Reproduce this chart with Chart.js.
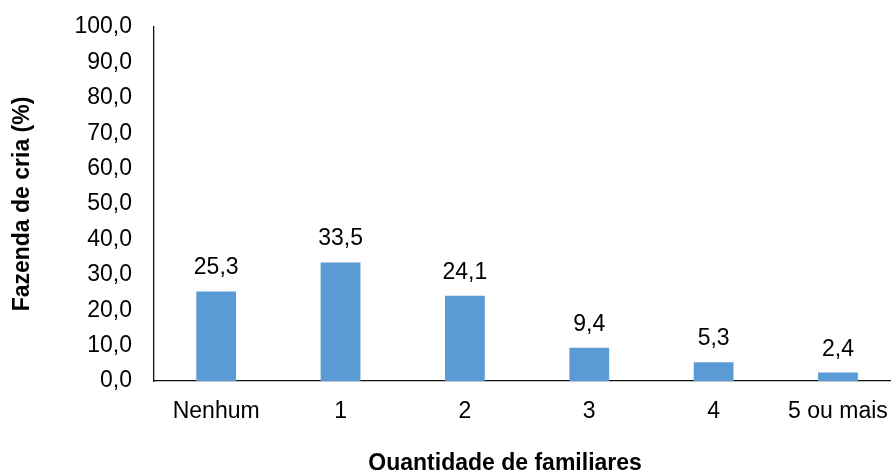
<!DOCTYPE html>
<html>
<head>
<meta charset="utf-8">
<script src="https://cdn.jsdelivr.net/npm/chart.js@4.4.0/dist/chart.umd.min.js"></script>
<style>
  html, body { margin: 0; padding: 0; background: #fff; overflow: hidden; }
  #wrap { width: 905px; height: 470px; position: relative; }
</style>
</head>
<body>
<div id="wrap"><canvas id="chart"></canvas></div>
<script>
// Percentual de fazendas de cria por quantidade de familiares
const categories = ['Nenhum', '1', '2', '3', '4', '5 ou mais'];
const percentages = [25.3, 33.5, 24.1, 9.4, 5.3, 2.4];
const yTickValues = [0, 10, 20, 30, 40, 50, 60, 70, 80, 90, 100];

const FONT = "'Liberation Sans', Arial, sans-serif";
const fmt = v => v.toFixed(1).replace('.', ',');

// Value labels above each bar
const barLabels = {
  id: 'barLabels',
  afterDatasetsDraw(chart) {
    const ctx = chart.ctx;
    const meta = chart.getDatasetMeta(0);
    ctx.save();
    ctx.font = '23px ' + FONT;
    ctx.fillStyle = '#000';
    ctx.textAlign = 'center';
    ctx.textBaseline = 'alphabetic';
    meta.data.forEach((bar, i) => {
      ctx.fillText(fmt(percentages[i]), bar.x, bar.y - 17);
    });
    ctx.restore();
  }
};

// Horizontal axis title under the category labels
const xTitle = {
  id: 'xTitle',
  afterDraw(chart) {
    const ctx = chart.ctx;
    const a = chart.chartArea;
    ctx.save();
    ctx.font = 'bold 23px ' + FONT;
    ctx.fillStyle = '#000';
    ctx.textAlign = 'center';
    ctx.textBaseline = 'middle';
    ctx.fillText('Quantidade de familiares', (a.left + a.right) / 2 - 22, a.bottom + 83);
    ctx.restore();
  }
};

new Chart(document.getElementById('chart'), {
  type: 'bar',
  data: {
    labels: categories,
    datasets: [{
      data: percentages,
      backgroundColor: '#5B9BD5',
      borderWidth: 0,
      categoryPercentage: 1,
      barPercentage: 0.32
    }]
  },
  options: {
    responsive: true,
    maintainAspectRatio: false,
    animation: false,
    layout: { padding: { top: 27, right: 2, left: 0, bottom: 0 } },
    plugins: { legend: { display: false }, tooltip: { enabled: false } },
    scales: {
      x: {
        grid: { display: false, drawTicks: false, tickLength: 0 },
        border: { display: true, color: '#111', width: 1.3 },
        ticks: { color: '#000', font: { family: FONT, size: 23 }, padding: 17, maxRotation: 0, autoSkip: false },
        afterFit(scale) { scale.height = 89; }
      },
      y: {
        min: 0,
        max: 100,
        afterBuildTicks(scale) { scale.ticks = yTickValues.map(v => ({ value: v })); },
        grid: { display: false, drawTicks: false, tickLength: 0 },
        border: { display: true, color: '#111', width: 1.3 },
        ticks: { color: '#000', font: { family: FONT, size: 23 }, padding: 22, callback: v => fmt(v) },
        title: {
          display: true,
          text: 'Fazenda de cria (%)',
          color: '#000',
          font: { family: FONT, size: 23, weight: 'bold' },
          padding: { top: 9, bottom: 0 }
        },
        afterFit(scale) {
          scale.width = 154;
          scale.paddingTop = 0;
          scale.paddingBottom = 0;
        }
      }
    }
  },
  plugins: [barLabels, xTitle]
});
</script>
</body>
</html>
